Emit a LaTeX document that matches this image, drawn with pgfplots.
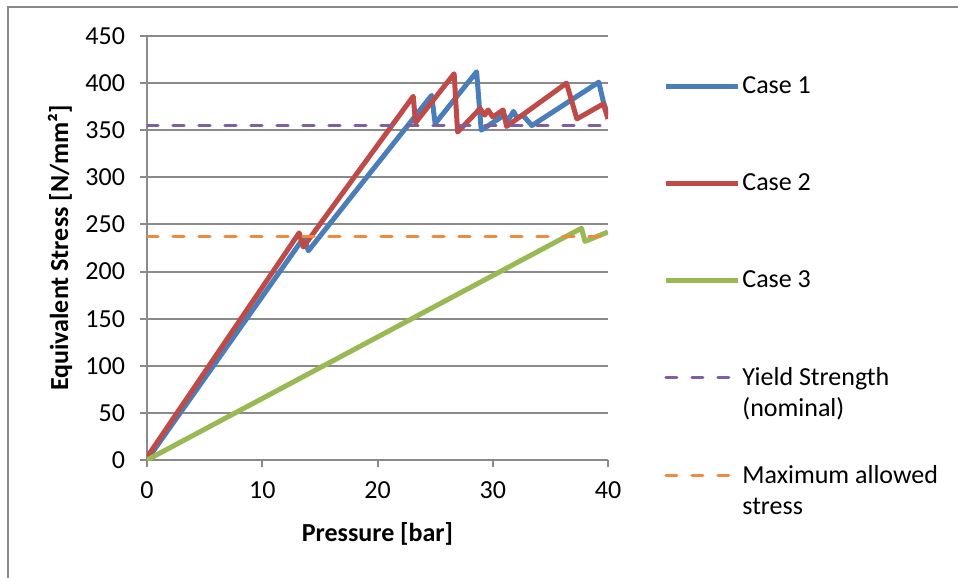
\documentclass[border=0pt]{standalone}
\usepackage{pgfplots}
\pgfplotsset{compat=1.18}
\usepackage{fontspec}
\setmainfont{Carlito}
\definecolor{c1}{HTML}{4A7EBB}
\definecolor{c2}{HTML}{BE4B48}
\definecolor{c3}{HTML}{98B954}
\definecolor{c4}{HTML}{7D60A0}
\definecolor{c5}{HTML}{F08A3C}
\definecolor{gr}{HTML}{8A8A8A}
\newcommand{\lbox}[1]{\parbox[t]{110pt}{#1}}
\begin{document}
\begin{tikzpicture}
\useasboundingbox (0,0) rectangle (479pt,289pt);
\draw[gr, line width=1pt] (4pt,0) -- (4pt,285.5pt) -- (479pt,285.5pt);
\begin{axis}[
  at={(73.5pt,59pt)}, anchor=south west,
  scale only axis, width=230.5pt, height=212pt,
  xmin=0, xmax=40, ymin=0, ymax=450,
  xtick={0,10,20,30,40}, ytick={0,50,...,450},
  axis lines=left, axis line style={-, draw=gr, line width=1pt},
  tick align=outside, major tick length=3.5pt,
  tick style={draw=gr, line width=1pt},
  ymajorgrids, grid style={draw=gr, line width=1pt},
  /pgf/number format/assume math mode=true,
  tick label style={font=\fontsize{13}{15}\selectfont},
  xticklabel style={yshift=-4pt},
  yticklabel style={xshift=-4pt},
  xlabel={\textbf{Pressure [bar]}},
  ylabel={\textbf{Equivalent Stress [N/mm²]}},
  label style={font=\fontsize{13}{15}\selectfont},
  xlabel style={at={(axis description cs:0.5,0)}, anchor=center, yshift=-37pt},
  ylabel style={at={(axis description cs:0,0.5)}, anchor=center, yshift=43.5pt},
  legend image code/.code={\draw[#1] (0pt,0pt) -- (36pt,0pt);},
  legend style={at={(1,1)}, anchor=north west, xshift=27.5pt, yshift=-18pt,
    draw=none, fill=none, inner sep=0pt, row sep=34.5pt,
    font=\fontsize{13}{15.6}\selectfont,
    /tikz/every odd column/.append style={column sep=-1pt}},
  legend cell align=left,
]
\addplot[c1, line width=2.5pt, line join=round] coordinates {
(0,0) (13.6,236) (14.0,222) (24.7,387) (25.0,357) (28.6,412) (29.0,350)
(31.0,366) (31.3,360) (31.8,370) (32.1,363) (32.6,366) (33.4,355)
(39.2,401) (39.6,380) (40,366)};
\addlegendentry{\lbox{Case 1}}
\addplot[c2, line width=2.5pt, line join=round] coordinates {
(0,3) (13.2,241) (13.56,226) (23.1,386) (23.3,358) (26.65,410) (26.95,348)
(28.9,373) (29.3,366) (29.6,371.5) (30.0,364) (30.9,371.5) (31.2,354)
(36.4,400) (37.3,362) (39.6,378) (40,362)};
\addlegendentry{\lbox{Case 2}}
\addplot[c3, line width=2.5pt, line join=round] coordinates {
(0,0) (37.7,246) (38.0,232) (40,242)};
\addlegendentry{\lbox{Case 3}}
\addplot[c4, line width=1.6pt, line cap=round, dash pattern=on 5.5pt off 7.5pt] coordinates {
(0,355) (40,355)};
\addlegendentry{\lbox{Yield Strength\\(nominal)}}
\addplot[c5, line width=1.6pt, line cap=round, dash pattern=on 5.5pt off 7.5pt] coordinates {
(0,237) (40,237)};
\addlegendentry{\lbox{Maximum allowed\\stress}}
\end{axis}
\end{tikzpicture}
\end{document}
